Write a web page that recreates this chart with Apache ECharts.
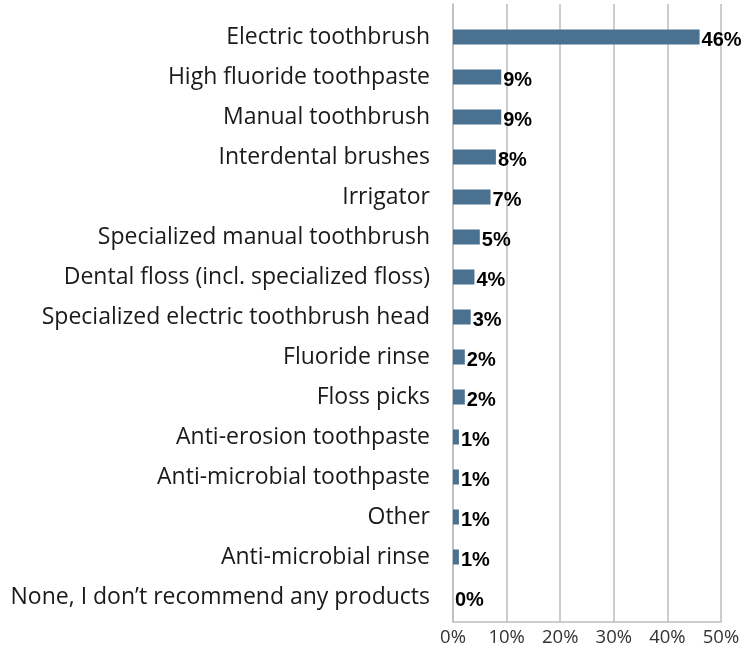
<!DOCTYPE html>
<html><head><meta charset="utf-8">
<script src="https://cdn.jsdelivr.net/npm/echarts@6/dist/echarts.min.js"></script>
<style>html,body{margin:0;padding:0;background:#fff}#c{width:743px;height:650px}</style>
</head><body><div id="c"></div>
<script>
const categories = [
  "Electric toothbrush",
  "High fluoride toothpaste",
  "Manual toothbrush",
  "Interdental brushes",
  "Irrigator",
  "Specialized manual toothbrush",
  "Dental floss (incl. specialized floss)",
  "Specialized electric toothbrush head",
  "Fluoride rinse",
  "Floss picks",
  "Anti-erosion toothpaste",
  "Anti-microbial toothpaste",
  "Other",
  "Anti-microbial rinse",
  "None, I don\u2019t recommend any products"
];
const values = [46, 9, 9, 8, 7, 5, 4, 3.3, 2.2, 2.2, 1.1, 1.1, 1.1, 1.1, 0];
const valueLabels = ["46%","9%","9%","8%","7%","5%","4%","3%","2%","2%","1%","1%","1%","1%","0%"];
const xTicks = [0, 10, 20, 30, 40, 50];

const font = "'Open Sans', 'Liberation Sans', Arial, sans-serif";
const boldFont = "'Liberation Sans', Arial, sans-serif";
const chart = echarts.init(document.getElementById('c'), null, {renderer: 'canvas'});
chart.setOption({
  animation: false,
  grid: [
    {left: 453, right: 22, top: 17, bottom: 33},
    {left: 453, right: 22, top: 4, bottom: 28}
  ],
  xAxis: [
    {gridIndex: 0, type: 'value', min: 0, max: 50, interval: 10, show: false},
    {gridIndex: 1, type: 'value', min: xTicks[0], max: xTicks[xTicks.length-1], interval: 10,
     axisLine: {show: true, lineStyle: {color: '#bdbdbd', width: 1.5}},
     axisTick: {show: false},
     splitLine: {show: true, lineStyle: {color: '#bdbdbd', width: 1.5}},
     axisLabel: {formatter: v => v + '%', color: '#333', fontSize: 18.5, fontFamily: font, margin: 6}}
  ],
  yAxis: [
    {gridIndex: 0, type: 'category', data: categories, inverse: true,
     axisLine: {show: false}, axisTick: {show: false},
     axisLabel: {color: '#1a1a1a', fontSize: 23, fontFamily: font, margin: 23}},
    {gridIndex: 1, type: 'category', data: [''], show: true,
     axisLine: {show: true, lineStyle: {color: '#bdbdbd', width: 1.5}},
     axisTick: {show: false}, axisLabel: {show: false}}
  ],
  series: [{
    type: 'bar', xAxisIndex: 0, yAxisIndex: 0,
    data: values, barWidth: 15,
    itemStyle: {color: '#4b7190'},
    label: {show: true, position: 'right', distance: 2,
      formatter: p => valueLabels[p.dataIndex],
      color: '#000', fontWeight: 'bold', fontSize: 20, fontFamily: boldFont, offset: [0, 3]}
  }]
});
</script></body></html>
